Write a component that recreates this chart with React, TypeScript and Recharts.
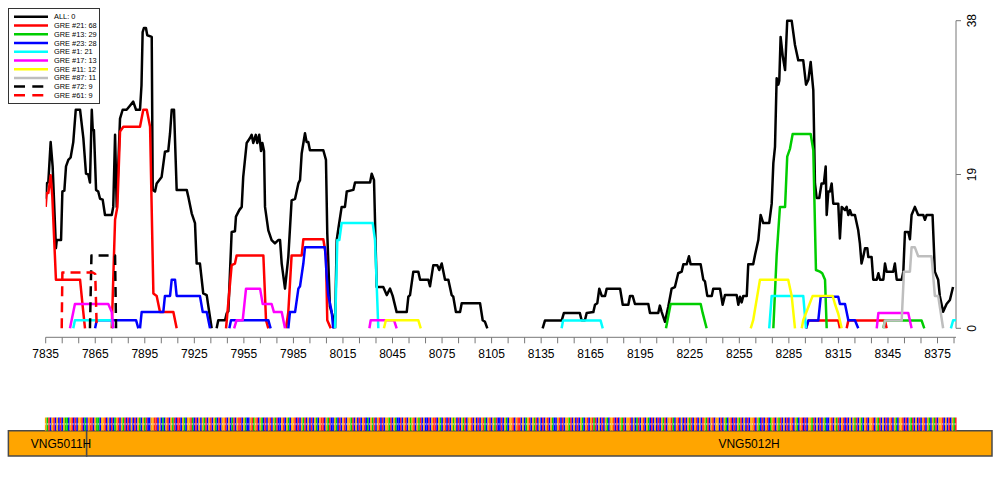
import React from 'react';
import {
  LineChart, Line, XAxis, YAxis, ReferenceLine, Legend,
  BarChart, Bar, Cell, ComposedChart, ReferenceArea, Scatter,
} from 'recharts';

type Pt = [number, number | null];

// ---------- data ----------
const allPts: Pt[] = [
  [7835, 16.0], [7835.6, 17.9], [7836.6, 18.1], [7838.0, 23.0], [7839.2, 20.0], [7841.2, 9.9], [7841.7, 10.9], [7844.3, 10.9],
  [7845.1, 16.9], [7846.3, 17.0], [7847.3, 20.0], [7848.7, 20.8], [7850.1, 21.1], [7851.7, 23.0], [7853.2, 27.0], [7855.8, 27.0],
  [7857.8, 23.5], [7859.4, 19.1], [7860.8, 19.0], [7861.8, 18.0], [7862.9, 27.0], [7863.5, 24.5], [7864.2, 24.5], [7865.5, 17.1],
  [7866.8, 16.9], [7867.9, 16.0], [7869.5, 15.9], [7870.9, 14.0], [7875.0, 14.0], [7875.9, 15.0], [7877.0, 23.9], [7878.0, 15.0],
  [7880.0, 25.9], [7881.6, 27.0], [7884.0, 27.0], [7886.0, 27.5], [7888.0, 28.0], [7889.7, 27.0], [7892.1, 27.0], [7893.0, 30.0],
  [7893.7, 36.6], [7894.5, 37.1], [7895.7, 37.1], [7896.5, 36.2], [7899.2, 36.0], [7899.8, 17.1], [7901.2, 16.9], [7902.2, 17.9],
  [7905.2, 18.7], [7907.2, 21.8], [7909.2, 21.9], [7910.3, 24.1], [7911.3, 27.0], [7912.7, 27.0], [7914.3, 17.1], [7920.4, 17.1],
  [7921.3, 16.3], [7923.4, 14.2], [7925.4, 13.0], [7926.4, 8.0], [7928.4, 8.0], [7930.4, 4.3], [7932.5, 4.1], [7933.5, 2.7],
  [7935.5, 0], [7936.5, null],
  [7938.5, 0], [7939.5, 1.0], [7943.6, 1.0], [7944.6, 1.85], [7945.6, 2.1], [7947.6, 11.9], [7949.6, 12.0], [7950.2, 13.8],
  [7952.2, 14.6], [7953.7, 15.0], [7954.6, 18.7], [7956.7, 22.9], [7958.7, 23.5], [7959.7, 23.9], [7960.7, 22.9], [7962.2, 23.9],
  [7963.1, 22.9], [7964.3, 23.9], [7965.4, 21.9], [7966.2, 22.9], [7967.2, 21.9], [7967.8, 15.0], [7969.8, 12.1], [7971.8, 10.9],
  [7973.8, 10.5], [7975.8, 10.9], [7976.9, 10.9], [7977.9, 8.0], [7979.9, 4.9], [7981.9, 8.8], [7983.9, 15.8], [7986.0, 16.0],
  [7988.0, 17.9], [7989.0, 18.3], [7990.0, 21.6], [7992.0, 24.1], [7993.0, 23.0], [7994.0, 23.0], [7995.0, 22.0], [8003.1, 22.0],
  [8004.7, 20.8], [8005.5, 11.7], [8007.1, 2.7], [8008.8, 1.5], [8009.8, 0], [8010.0, null],
  [8010.2, 0], [8011.2, 10.9], [8012.2, 12.3], [8014.2, 15.0], [8016.2, 15.0], [8017.3, 16.9], [8021.3, 17.1], [8022.3, 18.0],
  [8031.4, 18.0], [8032.4, 19.1], [8033.8, 18.3], [8035.4, 5.1], [8039.4, 5.1], [8041.5, 4.1], [8043.5, 4.9], [8045.1, 4.0],
  [8047.5, 2.0], [8053.6, 2.0], [8054.6, 3.9], [8055.6, 4.1], [8057.6, 7.0], [8060.6, 7.0], [8061.7, 6.0], [8066.7, 6.0],
  [8067.7, 5.2], [8069.7, 7.8], [8072.1, 7.8], [8073.3, 7.2], [8074.8, 8.0], [8076.8, 6.0], [8078.8, 6.0], [8080.8, 4.1],
  [8081.8, 3.9], [8083.4, 2.0], [8085.9, 2.0], [8086.9, 3.1], [8098.0, 3.1], [8099.6, 1.0], [8101.0, 0.8], [8102.4, 0],
  [8103.0, null],
  [8135.9, 0], [8137.3, 0.95], [8147.4, 0.95], [8148.8, 1.9], [8158.4, 1.9], [8159.5, 1.0], [8161.5, 1.0], [8162.6, 1.9],
  [8166.6, 2.0], [8167.6, 2.9], [8169.0, 3.1], [8170.2, 4.9], [8171.7, 4.0], [8173.7, 4.0], [8174.7, 4.9], [8182.8, 4.9],
  [8184.4, 2.9], [8187.8, 2.9], [8188.8, 4.0], [8190.4, 4.0], [8191.8, 3.0], [8199.9, 3.0], [8200.9, 1.9], [8205.9, 1.9],
  [8206.9, 2.8], [8208.0, 2.0], [8210.0, 0.8], [8212.0, 2.7], [8214.0, 4.9], [8216.0, 5.1], [8218.0, 6.8], [8220.1, 7.0],
  [8221.1, 7.9], [8223.1, 7.9], [8224.5, 8.9], [8225.5, 7.9], [8231.6, 7.9], [8233.2, 6.0], [8234.2, 5.8], [8235.6, 4.0],
  [8238.3, 4.0], [8239.2, 4.9], [8243.3, 4.9], [8244.9, 2.9], [8246.3, 4.1], [8253.4, 4.1], [8254.4, 2.9], [8255.4, 3.9],
  [8256.4, 3.2], [8257.4, 4.0], [8259.5, 4.0], [8260.4, 7.9], [8263.4, 7.9], [8264.5, 9.05], [8266.5, 10.9], [8267.9, 14.0],
  [8269.5, 13.0], [8273.1, 13.0], [8274.6, 15.4], [8275.6, 20.4], [8276.6, 22.4], [8277.6, 30.9], [8278.6, 30.1], [8279.2, 30.6],
  [8280.0, 36.0], [8281.3, 33.6], [8282.7, 31.9], [8284.0, 38.0], [8286.7, 38.0], [8288.7, 35.0], [8290.7, 33.1], [8293.7, 33.1],
  [8295.4, 30.1], [8296.8, 30.7], [8298.2, 32.9], [8299.8, 29.4], [8300.8, 17.9], [8301.8, 16.1], [8303.4, 16.1], [8304.8, 17.9],
  [8306.2, 17.9], [8307.3, 20.0], [8307.9, 14.0], [8308.9, 16.9], [8309.9, 16.9], [8310.9, 17.9], [8311.9, 15.4], [8314.9, 15.4],
  [8315.9, 11.1], [8317.0, 15.0], [8319.0, 14.6], [8320.0, 15.0], [8321.0, 14.0], [8322.0, 14.6], [8323.0, 14.0], [8325.0, 14.0],
  [8327.0, 12.1], [8328.0, 10.5], [8329.0, 8.0], [8330.0, 8.8], [8331.1, 9.9], [8332.5, 9.9], [8333.1, 8.8], [8335.1, 8.8],
  [8336.1, 6.0], [8338.2, 6.0], [8339.2, 6.8], [8340.2, 6.0], [8342.2, 6.0], [8343.2, 8.0], [8344.2, 7.0], [8348.2, 7.0],
  [8349.2, 8.0], [8350.3, 6.0], [8353.3, 6.0], [8354.3, 7.0], [8355.3, 11.9], [8357.3, 11.9], [8358.3, 11.0], [8359.3, 14.0],
  [8361.3, 15.0], [8363.3, 14.0], [8366.4, 14.0], [8367.4, 13.4], [8368.4, 14.0], [8372.0, 14.0], [8373.4, 7.0], [8375.4, 6.0],
  [8376.4, 4.0], [8378.4, 2.05], [8380.5, 3.0], [8382.5, 3.5], [8384.4, 5.1],
];

const gre21: Pt[] = [
  [7835, 15.0], [7835.6, 16.7], [7836.6, 16.7], [7838.0, 18.9], [7839.0, 16.3], [7841.2, 6.0], [7855.8, 6.0], [7857.4, 2.7],
  [7858.8, 0], [7860, null],
  [7875.0, 0], [7877.0, 13.4], [7878.4, 15.0], [7880.0, 24.3], [7882.0, 24.9], [7892.1, 24.9], [7894.1, 27.0], [7896.2, 27.0],
  [7898.2, 24.9], [7900.2, 4.3], [7902.2, 4.0], [7904.2, 2.0], [7912.3, 2.0], [7914.3, 0], [7920, null],
  [7944.2, 0], [7947.6, 7.8], [7949.6, 8.0], [7950.6, 9.0], [7966.8, 9.0], [7968.4, 1.0], [7969.8, 0], [7975, null],
  [7980.5, 0], [7981.9, 2.0], [7983.9, 9.0], [7990.0, 9.0], [7991.0, 11.0], [8003.1, 11.0], [8004.7, 9.0], [8005.5, 1.0],
  [8007.6, 0], [8100, null],
  [8295.4, 0], [8296.8, 0.95], [8314.9, 0.95], [8315.9, 0], [8318, null],
  [8320.0, 0], [8321.0, 0.95], [8343.2, 0.95], [8344.2, 0],
];

const gre13: Pt[] = [
  [8210.6, 0], [8213.4, 3.0], [8231.6, 3.0], [8232.8, 1.9], [8235.2, 0], [8250, null],
  [8275.6, 0], [8277.6, 9.0], [8279.6, 15.0], [8282.7, 15.0], [8284.0, 21.2], [8285.7, 22.2], [8287.3, 24.0], [8298.2, 24.0],
  [8299.8, 22.0], [8301.4, 7.2], [8303.8, 7.0], [8305.2, 6.8], [8306.9, 6.0], [8307.9, 0], [8320, null],
  [8342.2, 0], [8343.2, 0.95], [8365.4, 0.95], [8367.0, 0],
];

const gre23: Pt[] = [
  [7864.9, 0], [7865.9, 1.0], [7889.7, 1.0], [7891.1, 0], [7891.6, null],
  [7892.1, 0], [7893.1, 2.0], [7906.2, 2.0], [7907.2, 4.0], [7910.3, 4.0], [7911.3, 6.0], [7913.3, 6.0], [7914.3, 4.0],
  [7928.4, 4.0], [7930.1, 2.0], [7932.5, 2.0], [7934.5, 0], [7940, null],
  [7946.2, 0], [7947.2, 1.0], [7969.8, 1.0], [7971.2, 0], [7975, null],
  [7981.9, 0], [7982.9, 2.0], [7986.0, 2.0], [7988.0, 4.9], [7989.0, 5.2], [7991.0, 8.0], [7992.0, 10.0], [8004.1, 10.0],
  [8005.1, 6.6], [8006.1, 4.1], [8008.2, 2.0], [8009.1, 0], [8100, null],
  [8295.4, 0], [8296.8, 0.95], [8302.8, 0.95], [8304.3, 3.9], [8314.9, 3.9], [8315.9, 3.0], [8319.0, 3.0], [8321.0, 1.0],
  [8325.0, 1.0], [8327.0, 0],
];

const gre1: Pt[] = [
  [7851.7, 0], [7852.7, 1.0], [7875.0, 1.0], [7875.9, 0], [7900, null],
  [8010.2, 0], [8011.6, 10.9], [8012.8, 10.9], [8014.2, 13.0], [8033.0, 13.0], [8034.4, 10.9], [8036.4, 0], [8100, null],
  [8147.4, 0], [8148.3, 0.95], [8171.0, 0.95], [8172.3, 0], [8200, null],
  [8273.1, 0], [8274.6, 4.0], [8293.7, 4.0], [8295.4, 0], [8300, null],
  [8383.1, 0], [8384.5, 1.0], [8386.2, 1.0],
];

const gre17: Pt[] = [
  [7849.7, 0], [7852.7, 3.0], [7872.9, 3.0], [7875.0, 2.0], [7875.9, 0], [7900, null],
  [7949.1, 0], [7950.6, 1.0], [7954.3, 1.0], [7956.3, 4.9], [7964.8, 4.9], [7966.4, 3.0], [7971.8, 3.0], [7973.2, 2.0],
  [7977.9, 2.0], [7979.9, 0], [8000, null],
  [8031.0, 0], [8031.8, 1.0], [8045.9, 1.0], [8047.5, 0], [8100, null],
  [8338.2, 0], [8339.2, 1.9], [8357.3, 1.9], [8359.3, 0],
];

const gre11: Pt[] = [
  [8039.8, 0], [8041.0, 1.0], [8060.6, 1.0], [8062.1, 0], [8100, null],
  [8261.9, 0], [8263.4, 1.0], [8267.5, 6.0], [8284.6, 6.0], [8286.7, 4.0], [8288.7, 0], [8290, null],
  [8292.8, 0], [8293.7, 1.0], [8299.4, 4.0], [8311.5, 4.0], [8312.9, 3.0], [8314.9, 1.8], [8317.0, 0],
];

const gre87: Pt[] = [
  [8342.3, 0], [8343.2, 0.95], [8353.3, 0.95], [8354.7, 7.0], [8358.3, 7.0], [8359.3, 10.0], [8361.3, 10.0], [8363.3, 8.9],
  [8371.4, 8.9], [8373.4, 4.0], [8375.4, 4.0], [8378.4, 0],
];

const gre72: Pt[] = [[7861.8, 0], [7862.7, 9.0], [7877.0, 9.0], [7877.6, 0]];
const gre61: Pt[] = [[7844.7, 0], [7845.1, 6.9], [7863.5, 6.9], [7865.0, 6.7], [7865.9, 0]];

const seriesNames = ['ALL: 0', 'GRE #21: 68', 'GRE #13: 29', 'GRE #23: 28', 'GRE #1: 21', 'GRE #17: 13', 'GRE #11: 12', 'GRE #87: 11', 'GRE #72: 9', 'GRE #61: 9'];
const seriesColors = ['#000000', '#FF0000', '#00CD00', '#0000FF', '#00FFFF', '#FF00FF', '#FFFF00', '#BEBEBE', '#000000', '#FF0000'];
const seriesDashed = [false, false, false, false, false, false, false, false, true, true];
const seriesPts = [allPts, gre21, gre13, gre23, gre1, gre17, gre11, gre87, gre72, gre61];

const xDomain: [number, number] = [7835, 8386.2];
const xTicks = Array.from({ length: 56 }, (_, i) => 7835 + 10 * i);
const xLabelTicks = [7835, 7865, 7895, 7925, 7955, 7985, 8015, 8045, 8075, 8105, 8135, 8165, 8195, 8225, 8255, 8285, 8315, 8345, 8375];
const yTicks = [0, 19, 38];

const sequence = (
  'GATCGTCGCTCGAACGTCTCGGTCACGTTCGAACGGTCGCTCAGTCGATC' +
  'TCGCTCGACGATCCGGTTCGCACGTCGATCTTCGACGGTACTCGCGATCG' +
  'TCGACTCGGTCGCATCGTTCGACCGTAGTCGACTCGTCGATCCGTCGACG' +
  'GTCTCGATCGCTCGACGTTCGATCCGACTCGTCGGATCGCTCGTCACGAT' +
  'CGTCTCGGATCGACCTCGTCGAGTCGATCGCCTCGTTCGACGTCTCGAGC' +
  'TCGATCGGTCGCTCGTACGTCGATCCTCGACGGTCGTTCGCAGTCGATCG' +
  'CTCGTCGACCGTCTCGGATCGCTCGACGTCGTATCGCTCGACGGTCTCGA' +
  'TCGGTCGCATCGTCGACTCGCTCGATCGGTACGTCGCTCGATCGTCGCTG' +
  'ATCGTCGGCTCGACGTCTCGATCGCTCGGTCGACTCGTCAGTCGATCGCT' +
  'CGTCGACGTCTCGGATCGCTCGACCGTCGATCGTCTCGCGATCGACGTCG' +
  'GTCGATCGCTCGTCGACGGTCTCGATCGCTCGTCGACGATCGGTCGCTCG' +
  'ATCGTCGACTCG'
).slice(0, 552);
const baseColors: Record<string, string> = { A: '#00CC00', C: '#0000FF', G: '#FFA500', T: '#FF2020' };

const geneNames = ['VNG5011H', 'VNG5012H'];
const geneStarts = [7812.4, 7859.8];
const geneEnds = [7859.8, 8408.0];
const geneLabelAt = [7844.3, 8260.9];

// ---------- tables built from the arrays ----------
const seriesData = seriesPts.map((pts) => pts.map(([x, y]) => ({ x, y })));
const bases = sequence.split('').map((b, i) => ({ pos: xDomain[0] + i, base: b, h: 1 }));
const genes = geneNames.map((name, i) => ({ name, start: geneStarts[i], end: geneEnds[i] }));
const geneLabels = geneNames.map((name, i) => ({ name, x: geneLabelAt[i], y: 0.5 }));

const FONT = 'Liberation Sans, Arial, Helvetica, sans-serif';
const AXIS = '#777777';

const XTick = (props: any) => {
  const { x, y, payload } = props;
  const v = payload.value;
  return (
    <g>
      <line x1={x} x2={x} y1={y} y2={y + 6} stroke={AXIS} strokeWidth={1} />
      {xLabelTicks.includes(v) && (
        <text x={x} y={y + 21} textAnchor="middle" fontSize={12} fontFamily={FONT} fill="#000">{v}</text>
      )}
    </g>
  );
};

const YTick = (props: any) => {
  const { x, y, payload } = props;
  return (
    <g>
      <line x1={x} x2={x + 5} y1={y} y2={y} stroke={AXIS} strokeWidth={1} />
      <text transform={`translate(${x + 20},${y}) rotate(-90)`} textAnchor="middle" fontSize={12} fontFamily={FONT} fill="#000">
        {payload.value}
      </text>
    </g>
  );
};

const LegendBox = () => (
  <svg width={92} height={96} style={{ display: 'block' }}>
    <rect x={0.5} y={0.5} width={91} height={95} fill="#fff" stroke="#333" strokeWidth={1} />
    {seriesNames.map((name, i) => {
      const cy = 8.7 + i * 8.74;
      return (
        <g key={name}>
          <line x1={6} x2={40} y1={cy} y2={cy} stroke={seriesColors[i]} strokeWidth={2.5}
            strokeDasharray={seriesDashed[i] ? '11 7.3' : undefined} />
          <text x={46} y={cy + 2.6} fontSize={7.4} fontFamily={FONT} fill="#000">{name}</text>
        </g>
      );
    })}
  </svg>
);

const BaseShape = (props: any) => {
  const { x, y, width, height, fill } = props;
  return (
    <g>
      <rect x={x} y={y} width={width} height={height} fill={fill} />
      <rect x={x + width * 0.3} y={y + height * 0.42} width={width * 0.4} height={height * 0.16} fill="#fff" fillOpacity={0.75} />
    </g>
  );
};

const GeneLabel = (props: any) => {
  const { cx, cy, payload } = props;
  return (
    <text x={cx} y={cy + 4.3} textAnchor="middle" fontSize={12} fontFamily={FONT} fill="#000">{payload.name}</text>
  );
};

export default function App() {
  return (
    <div style={{ position: 'absolute', left: 0, top: 0, width: 1000, height: 500, background: '#fff', overflow: 'hidden' }}>
      <div style={{ position: 'absolute', left: 0, top: 0 }}>
        <LineChart width={1000} height={370} margin={{ top: 11.7, right: 0, bottom: 0, left: 45.7 }}>
          <XAxis type="number" dataKey="x" domain={xDomain} allowDataOverflow ticks={xTicks} interval={0}
            height={32.7} tickLine={false} tickSize={0} tickMargin={0}
            axisLine={{ stroke: AXIS, strokeWidth: 1 }} tick={(p: any) => <XTick {...p} />} />
          <YAxis orientation="right" type="number" domain={[-1.112, 39.112]} allowDataOverflow ticks={yTicks}
            interval={0} width={44} axisLine={false} tickLine={false} tickSize={0} tickMargin={0}
            tick={(p: any) => <YTick {...p} />} />
          <ReferenceLine segment={[{ x: xDomain[1], y: 0 }, { x: xDomain[1], y: 38 }]} stroke={AXIS} strokeWidth={1} ifOverflow="visible" />
          {seriesData.map((d, i) => (
            <Line key={seriesNames[i]} data={d} dataKey="y" name={seriesNames[i]} type="linear"
              stroke={seriesColors[i]} strokeWidth={2.5} strokeDasharray={seriesDashed[i] ? '10 6' : undefined}
              strokeLinejoin="round" dot={false} activeDot={false} connectNulls={false} isAnimationActive={false} />
          ))}
          <Legend layout="vertical" align="center" verticalAlign="middle" content={() => <LegendBox />}
            wrapperStyle={{ left: 8, top: 8, width: 92, height: 96 }} />
        </LineChart>
      </div>

      <div style={{ position: 'absolute', left: 0, top: 425 }}>
        <ComposedChart width={1000} height={40} margin={{ top: 5.7, right: 44, bottom: 9, left: 45.7 }}>
          <XAxis type="number" dataKey="x" domain={xDomain} hide />
          <YAxis type="number" dataKey="y" domain={[0, 1]} hide />
          {genes.map((g) => (
            <ReferenceArea key={g.name} x1={g.start} x2={g.end} y1={0} y2={1} ifOverflow="visible"
              fill="#FFA500" fillOpacity={1} stroke="#4a4a4a" strokeWidth={1.5} />
          ))}
          <Scatter data={geneLabels} dataKey="y" shape={(p: any) => <GeneLabel {...p} />} isAnimationActive={false} />
        </ComposedChart>
      </div>

      <div style={{ position: 'absolute', left: 0, top: 410 }}>
        <BarChart width={1000} height={30} data={bases} margin={{ top: 7.5, right: 43.4, bottom: 9.3, left: 44.9 }}
          barCategoryGap={0} barGap={0}>
          <XAxis dataKey="pos" type="category" hide />
          <YAxis type="number" domain={[0, 1]} hide />
          <Bar dataKey="h" barSize={1.65} isAnimationActive={false} shape={(p: any) => <BaseShape {...p} />}>
            {bases.map((b, i) => (
              <Cell key={i} fill={baseColors[b.base]} />
            ))}
          </Bar>
        </BarChart>
      </div>
    </div>
  );
}
